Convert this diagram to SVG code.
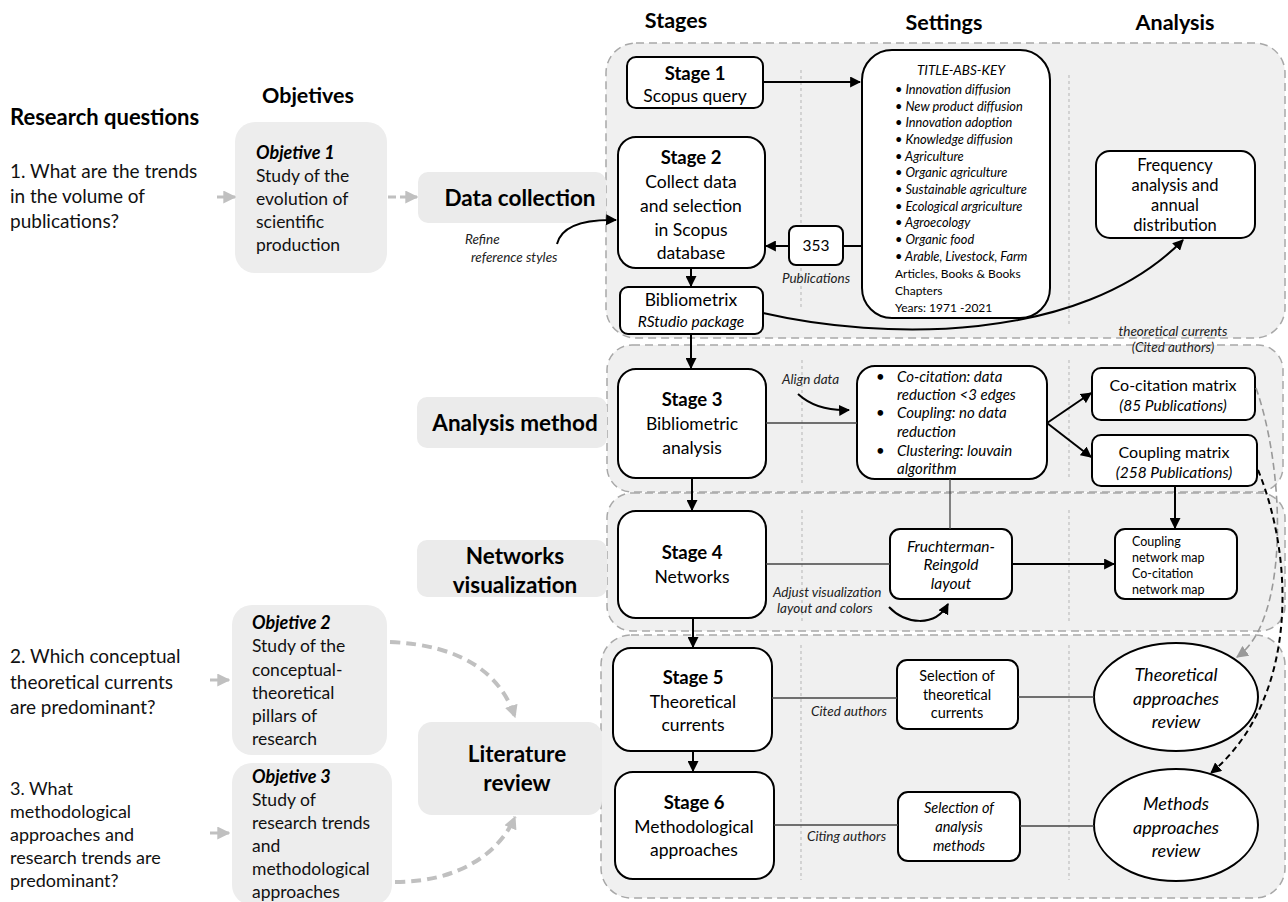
<svg xmlns="http://www.w3.org/2000/svg" width="1288" height="902" viewBox="0 0 1288 902">
<defs>
<style>
text { font-family: Lato, "Liberation Sans", "DejaVu Sans", sans-serif; fill:#000; }
.hd { font-size:21.5px; font-weight:bold; }
.q { font-size:19px; fill:#111; }
.q3 { font-size:18px; fill:#111; }
.ob { font-size:17.5px; fill:#111; }
.obt { font-size:18px; font-weight:bold; font-style:italic; }
.lab { font-size:22.5px; font-weight:bold; text-anchor:middle; }
.st { font-size:18.5px; font-weight:bold; text-anchor:middle; }
.sd { font-size:17.5px; text-anchor:middle; }
.sm { font-size:13.5px; font-style:italic; fill:#222; }
.kw { font-size:12.8px; font-style:italic; }
.kr { font-size:12px; }
.mid { text-anchor:middle; }
.it { font-style:italic; }
.panel { fill:#f0f0f0; stroke:#a8a8a8; stroke-width:1.5; stroke-dasharray:8 5; }
.lbl { fill:#ebebeb; }
.obj { fill:#ededed; }
.box { fill:#fff; stroke:#000; stroke-width:2; }
.vsep { stroke:#b5b5b5; stroke-width:1; stroke-dasharray:3 3; fill:none; }
.conn { stroke:#000; stroke-width:2; fill:none; }
.thin { stroke:#444; stroke-width:1.3; fill:none; }
.gthick { stroke:#c0c0c0; stroke-width:4; fill:none; stroke-dasharray:10 6; }
.gsmall { stroke:#c0c0c0; stroke-width:3; fill:none; }
</style>
<marker id="ab" viewBox="0 0 10 10" refX="9" refY="5" markerUnits="userSpaceOnUse" markerWidth="11" markerHeight="11" orient="auto"><path d="M0,0 L10,5 L0,10 z" fill="#000"/></marker>
<marker id="ag" viewBox="0 0 10 10" refX="9" refY="5" markerUnits="userSpaceOnUse" markerWidth="12" markerHeight="12" orient="auto"><path d="M0,0 L10,5 L0,10 z" fill="#999"/></marker>
<marker id="agl" viewBox="0 0 10 10" refX="9" refY="5" markerUnits="userSpaceOnUse" markerWidth="13" markerHeight="13" orient="auto"><path d="M0,0 L10,5 L0,10 z" fill="#c0c0c0"/></marker>
</defs>

<g id="panels">
<rect class="panel" x="606" y="43" width="679" height="295" rx="30"/>
<rect class="panel" x="607" y="345" width="676" height="147" rx="25"/>
<rect class="panel" x="607" y="493" width="678" height="138" rx="25"/>
<rect class="panel" x="601" y="635" width="684" height="263" rx="30"/>
<path class="vsep" d="M801,70 V308 M1069,75 V325 M802,360 V485 M1069,360 V480 M802,510 V622 M1069,510 V622 M801,645 V880 M1069,645 V880"/>
</g>

<g id="headers">
<text class="hd mid" x="676" y="28">Stages</text>
<text class="hd mid" x="944" y="30">Settings</text>
<text class="hd mid" x="1175" y="30">Analysis</text>
<text class="hd mid" x="308" y="103">Objetives</text>
<text class="hd" x="10" y="125" style="font-size:22px">Research questions</text>
</g>

<g id="questions">
<text class="q" x="10" y="178">1. What are the trends</text>
<text class="q" x="10" y="203">in the volume of</text>
<text class="q" x="10" y="228">publications?</text>
<text class="q" x="10" y="663">2. Which conceptual</text>
<text class="q" x="10" y="689">theoretical currents</text>
<text class="q" x="10" y="714">are predominant?</text>
<text class="q3" x="10" y="795">3. What</text>
<text class="q3" x="10" y="818">methodological</text>
<text class="q3" x="10" y="841">approaches and</text>
<text class="q3" x="10" y="864">research trends are</text>
<text class="q3" x="10" y="887">predominant?</text>
</g>

<g id="objective1">
<rect class="obj" x="235" y="122" width="152" height="151" rx="20"/>
<text class="obt" x="256" y="159">Objetive 1</text>
<text class="ob" x="256" y="182">Study of the</text>
<text class="ob" x="256" y="205">evolution of</text>
<text class="ob" x="256" y="228">scientific</text>
<text class="ob" x="256" y="251">production</text>
</g>
<g id="objective2">
<rect class="obj" x="232" y="605" width="155" height="150" rx="20"/>
<text class="obt" x="252" y="629">Objetive 2</text>
<text class="ob" x="252" y="652">Study of the</text>
<text class="ob" x="252" y="676">conceptual-</text>
<text class="ob" x="252" y="699">theoretical</text>
<text class="ob" x="252" y="722">pillars of</text>
<text class="ob" x="252" y="745">research</text>
</g>
<g id="objective3">
<rect class="obj" x="232" y="763" width="160" height="142" rx="20"/>
<text class="obt" x="252" y="783">Objetive 3</text>
<text class="ob" x="252" y="806">Study of</text>
<text class="ob" x="252" y="829">research trends</text>
<text class="ob" x="252" y="852">and</text>
<text class="ob" x="252" y="875">methodological</text>
<text class="ob" x="252" y="898">approaches</text>
</g>

<g id="label-data-collection">
<rect class="lbl" x="418" y="172" width="188" height="51" rx="10"/>
<text class="lab" x="520" y="206">Data collection</text>
</g>
<g id="label-analysis-method">
<rect class="lbl" x="417" y="397" width="190" height="51" rx="10"/>
<text class="lab" x="515" y="431">Analysis method</text>
</g>
<g id="label-networks">
<rect class="lbl" x="417" y="540" width="190" height="57" rx="10"/>
<text class="lab" x="515" y="564">Networks</text>
<text class="lab" x="515" y="593">visualization</text>
</g>
<g id="label-literature">
<rect class="lbl" x="418" y="722" width="184" height="93" rx="14"/>
<text class="lab" x="517" y="762">Literature</text>
<text class="lab" x="517" y="791">review</text>
</g>

<g id="stage1">
<rect class="box" x="627" y="57" width="136" height="51" rx="9"/>
<text class="st" x="695" y="80">Stage 1</text>
<text class="sd" x="695" y="102">Scopus query</text>
</g>
<g id="stage2">
<rect class="box" x="618" y="137" width="147" height="131" rx="18"/>
<text class="st" x="691" y="164">Stage 2</text>
<text class="sd" x="691" y="188">Collect data</text>
<text class="sd" x="691" y="212">and selection</text>
<text class="sd" x="691" y="236">in Scopus</text>
<text class="sd" x="691" y="259">database</text>
</g>
<g id="bibliometrix">
<rect class="box" x="620" y="287" width="143" height="47" rx="8"/>
<text class="sd" x="691" y="306">Bibliometrix</text>
<text class="mid it" x="691" y="327" style="font-size:15.5px">RStudio package</text>
</g>
<g id="n353">
<rect class="box" x="789" y="226" width="54" height="39" rx="7"/>
<text class="mid" x="816" y="251" style="font-size:15.5px">353</text>
<text class="sm mid" x="816" y="283">Publications</text>
</g>
<g id="query">
<rect class="box" x="862" y="50" width="188" height="268" rx="30"/>
<text class="mid it" x="961" y="75" style="font-size:13.5px">TITLE-ABS-KEY</text>
<g class="kw">
<text x="895" y="94">•  Innovation diffusion</text>
<text x="895" y="111">•  New product diffusion</text>
<text x="895" y="127">•  Innovation adoption</text>
<text x="895" y="144">•  Knowledge diffusion</text>
<text x="895" y="161">•  Agriculture</text>
<text x="895" y="177">•  Organic agriculture</text>
<text x="895" y="194">•  Sustainable agriculture</text>
<text x="895" y="211">•  Ecological argriculture</text>
<text x="895" y="227">•  Agroecology</text>
<text x="895" y="244">•  Organic food</text>
<text x="895" y="261">•  Arable, Livestock, Farm</text>
</g>
<text class="kr" x="895" y="278">Articles, Books &amp; Books</text>
<text class="kr" x="895" y="295">Chapters</text>
<text class="kr" x="895" y="312">Years: 1971 -2021</text>
</g>
<g id="frequency">
<rect class="box" x="1096" y="151" width="159" height="87" rx="14"/>
<text class="sd" x="1175" y="171" style="font-size:16.5px">Frequency</text>
<text class="sd" x="1175" y="191" style="font-size:16.5px">analysis and</text>
<text class="sd" x="1175" y="211" style="font-size:16.5px">annual</text>
<text class="sd" x="1175" y="231" style="font-size:16.5px">distribution</text>
</g>
<text class="sm mid" x="1173" y="336">theoretical currents</text>
<text class="sm mid" x="1173" y="352">(Cited authors)</text>

<g id="stage3">
<rect class="box" x="618" y="369" width="148" height="109" rx="18"/>
<text class="st" x="692" y="406">Stage 3</text>
<text class="sd" x="692" y="430">Bibliometric</text>
<text class="sd" x="692" y="454">analysis</text>
</g>
<g id="settings3">
<rect class="box" x="857" y="366" width="190" height="113" rx="18"/>
<g class="it" style="font-size:15px">
<text x="876" y="382">•</text><text x="897" y="382">Co-citation: data</text>
<text x="897" y="400">reduction &lt;3 edges</text>
<text x="876" y="418">•</text><text x="897" y="418">Coupling: no data</text>
<text x="897" y="437">reduction</text>
<text x="876" y="456">•</text><text x="897" y="456">Clustering: louvain</text>
<text x="897" y="474">algorithm</text>
</g>
</g>
<text class="sm" x="782" y="384">Align data</text>
<g id="cocitation">
<rect class="box" x="1092" y="368" width="163" height="52" rx="9"/>
<text class="sd" x="1173" y="391" style="font-size:16px">Co-citation matrix</text>
<text class="mid it" x="1173" y="411" style="font-size:15.5px">(85 Publications)</text>
</g>
<g id="coupling">
<rect class="box" x="1092" y="435" width="165" height="51" rx="9"/>
<text class="sd" x="1174" y="458" style="font-size:16px">Coupling matrix</text>
<text class="mid it" x="1174" y="478" style="font-size:15.5px">(258 Publications)</text>
</g>

<g id="stage4">
<rect class="box" x="618" y="511" width="148" height="107" rx="18"/>
<text class="st" x="692" y="559">Stage 4</text>
<text class="sd" x="692" y="583">Networks</text>
</g>
<g id="fruchterman">
<rect class="box" x="890" y="529" width="122" height="70" rx="10"/>
<text class="mid it" x="951" y="552" style="font-size:15.5px">Fruchterman-</text>
<text class="mid it" x="951" y="570" style="font-size:15.5px">Reingold</text>
<text class="mid it" x="951" y="589" style="font-size:15.5px">layout</text>
</g>
<text class="sm" x="773" y="597">Adjust visualization</text>
<text class="sm" x="777" y="613">layout and colors</text>
<g id="networkmap">
<rect class="box" x="1115" y="529" width="122" height="70" rx="10"/>
<text x="1132" y="546" style="font-size:12.5px">Coupling</text>
<text x="1132" y="562" style="font-size:12.5px">network map</text>
<text x="1132" y="578" style="font-size:12.5px">Co-citation</text>
<text x="1132" y="594" style="font-size:12.5px">network map</text>
</g>

<g id="stage5">
<rect class="box" x="613" y="648" width="159" height="103" rx="18"/>
<text class="st" x="693" y="684">Stage 5</text>
<text class="sd" x="693" y="708">Theoretical</text>
<text class="sd" x="693" y="731">currents</text>
</g>
<g id="stage6">
<rect class="box" x="615" y="772" width="159" height="107" rx="18"/>
<text class="st" x="694" y="809">Stage 6</text>
<text class="sd" x="694" y="833">Methodological</text>
<text class="sd" x="694" y="856">approaches</text>
</g>
<text class="sm" x="811" y="716">Cited authors</text>
<text class="sm" x="807" y="841">Citing authors</text>
<g id="seltheory">
<rect class="box" x="897" y="660" width="121" height="69" rx="10"/>
<text class="mid" x="957" y="681" style="font-size:14.5px">Selection of</text>
<text class="mid" x="957" y="700" style="font-size:14.5px">theoretical</text>
<text class="mid" x="957" y="718" style="font-size:14.5px">currents</text>
</g>
<g id="selmethods">
<rect class="box" x="898" y="792" width="122" height="69" rx="10"/>
<text class="mid it" x="959" y="813" style="font-size:14.5px">Selection of</text>
<text class="mid it" x="959" y="832" style="font-size:14.5px">analysis</text>
<text class="mid it" x="959" y="851" style="font-size:14.5px">methods</text>
</g>
<g id="theoryreview">
<ellipse class="box" cx="1176" cy="697" rx="82" ry="54"/>
<text class="mid it" x="1176" y="681" style="font-size:18px">Theoretical</text>
<text class="mid it" x="1176" y="705" style="font-size:18px">approaches</text>
<text class="mid it" x="1176" y="728" style="font-size:18px">review</text>
</g>
<g id="methodsreview">
<ellipse class="box" cx="1176" cy="825" rx="82" ry="56"/>
<text class="mid it" x="1176" y="810" style="font-size:18px">Methods</text>
<text class="mid it" x="1176" y="834" style="font-size:18px">approaches</text>
<text class="mid it" x="1176" y="857" style="font-size:18px">review</text>
</g>
<text class="sm" x="465" y="244">Refine</text>
<text class="sm" x="471" y="262">reference styles</text>

<g id="connectors">
<path class="conn" d="M763,82 H860" marker-end="url(#ab)"/>
<path class="conn" d="M861,246 H843"/>
<path class="conn" d="M789,246 H766" marker-end="url(#ab)"/>
<path class="conn" d="M691,268 V286" marker-end="url(#ab)"/>
<path class="conn" d="M691,334 V368" marker-end="url(#ab)"/>
<path class="conn" d="M692,478 V510" marker-end="url(#ab)"/>
<path class="conn" d="M693,618 V647" marker-end="url(#ab)"/>
<path class="conn" d="M693,751 V771" marker-end="url(#ab)"/>
<path class="conn" d="M557,244 C561,228 578,219 616,220" marker-end="url(#ab)"/>
<path class="conn" d="M763,313 C880,340 1080,345 1183,240" marker-end="url(#ab)"/>
<path class="conn" d="M798,394 C810,405 826,411 849,410" marker-end="url(#ab)"/>
<path class="thin" d="M766,423 H857"/>
<path class="conn" d="M1047,423 L1091,393" marker-end="url(#ab)"/>
<path class="conn" d="M1047,423 L1091,457" marker-end="url(#ab)"/>
<path class="conn" d="M1175,486 V528" marker-end="url(#ab)"/>
<path class="thin" d="M950,479 V529"/>
<path class="thin" d="M766,564 H890"/>
<path class="conn" d="M1012,564 H1114" marker-end="url(#ab)"/>
<path class="conn" d="M889,607 C905,624 935,628 948,604" marker-end="url(#ab)"/>
<path class="thin" d="M772,698 H897"/>
<path class="thin" d="M774,825 H898"/>
<path class="thin" d="M1018,697 H1094"/>
<path class="thin" d="M1020,826 H1094"/>
<path d="M1256,388 C1285,470 1290,620 1237,657" fill="none" stroke="#999" stroke-width="1.6" stroke-dasharray="7 4" marker-end="url(#ag)"/>
<path d="M1258,470 C1295,560 1298,700 1211,773" fill="none" stroke="#000" stroke-width="2" stroke-dasharray="6 4" marker-end="url(#ab)"/>
<path class="gsmall" d="M217,197 H235" marker-end="url(#agl)"/>
<path class="gsmall" d="M388,197 H417" stroke-dasharray="8 4" marker-end="url(#agl)"/>
<path class="gsmall" d="M210,680 H229" marker-end="url(#agl)"/>
<path class="gsmall" d="M210,833 H229" marker-end="url(#agl)"/>
<path class="gthick" d="M390,642 C460,645 500,672 515,717" marker-end="url(#agl)"/>
<path class="gthick" d="M395,882 C460,882 500,852 515,817" marker-end="url(#agl)"/>
</g>
</svg>
